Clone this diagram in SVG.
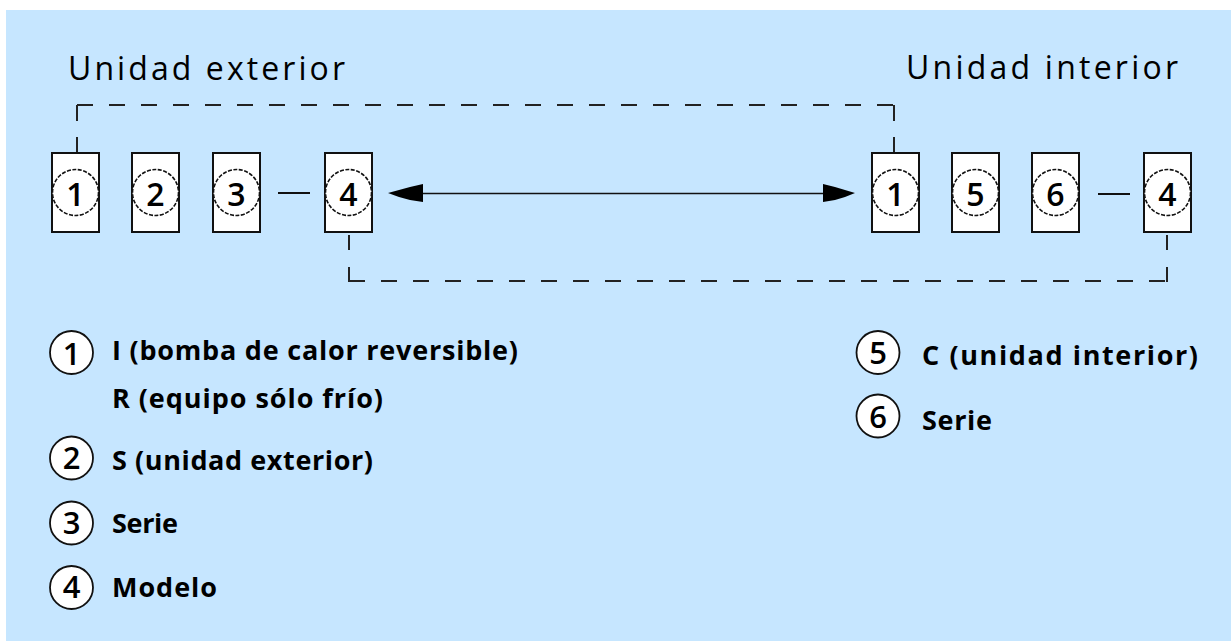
<svg xmlns="http://www.w3.org/2000/svg" width="1231" height="641" viewBox="0 0 1231 641">
<defs>
<style>
.bg{fill:#C6E6FF}
.box{fill:#fff;stroke:#111;stroke-width:2}
.cin{fill:#fff;stroke:#111;stroke-width:1.6;stroke-dasharray:4 1.5}
.cleg{fill:#fff;stroke:#111;stroke-width:1.8}
.num{font-family:"Open Sans","Liberation Sans",sans-serif;font-size:32px;font-weight:600;fill:#000;text-anchor:middle}
.lnum{font-family:"Open Sans","Liberation Sans",sans-serif;font-size:31px;font-weight:600;fill:#000;text-anchor:middle}
.title{font-family:"Open Sans","Liberation Sans",sans-serif;font-size:32px;font-weight:500;fill:#000}
.leg{font-family:"Open Sans","Liberation Sans",sans-serif;font-size:27px;font-weight:700;fill:#000}
.dash{fill:none;stroke:#222;stroke-width:2;stroke-dasharray:16 16}
.solid{fill:none;stroke:#111;stroke-width:2}
.head{fill:#000}
</style>
</defs>
<rect class="bg" x="6" y="10" width="1225" height="631"/>

<text class="title" x="68" y="80" textLength="277" lengthAdjust="spacing">Unidad exterior</text>
<text class="title" x="906" y="79" textLength="272" lengthAdjust="spacing">Unidad interior</text>

<g id="connectors">
  <line class="dash" x1="77" y1="105" x2="77" y2="153"/>
  <line class="dash" x1="77" y1="105" x2="894" y2="105"/>
  <line class="dash" x1="894" y1="105" x2="894" y2="153"/>
  <line class="dash" x1="349" y1="235" x2="349" y2="282" style="stroke-dasharray:15 17"/>
  <line class="dash" x1="349" y1="281" x2="1167" y2="281"/>
  <line class="dash" x1="1167" y1="235" x2="1167" y2="282" style="stroke-dasharray:15 17"/>
  <line class="solid" x1="278" y1="193" x2="310" y2="193"/>
  <line class="solid" x1="1098" y1="194" x2="1130" y2="194"/>
  <line class="solid" x1="420" y1="193.5" x2="826" y2="193.5" style="stroke-width:1.6"/>
  <polygon class="head" points="388,193 399,190 410,187 423,184 423,202 410,200 399,197"/>
  <polygon class="head" points="855,193 845,190 835,187 823,184 823,202 835,200 845,197"/>
</g>

<g id="out1"><rect class="box" x="52" y="153" width="47" height="79"/><circle class="cin" cx="75.5" cy="192.5" r="23"/><text class="num" x="75.5" y="205.5">1</text></g>
<g id="out2"><rect class="box" x="132" y="153" width="47" height="79"/><circle class="cin" cx="155.5" cy="192.5" r="23"/><text class="num" x="155.5" y="205.5">2</text></g>
<g id="out3"><rect class="box" x="213" y="153" width="47" height="79"/><circle class="cin" cx="236.5" cy="192.5" r="23"/><text class="num" x="236.5" y="205.5">3</text></g>
<g id="out4"><rect class="box" x="325" y="153" width="47" height="79"/><circle class="cin" cx="348.5" cy="192.5" r="23"/><text class="num" x="348.5" y="205.5">4</text></g>

<g id="in1"><rect class="box" x="872" y="153" width="47" height="79"/><circle class="cin" cx="895.5" cy="192.5" r="23"/><text class="num" x="895.5" y="205.5">1</text></g>
<g id="in5"><rect class="box" x="952" y="153" width="47" height="79"/><circle class="cin" cx="975.5" cy="192.5" r="23"/><text class="num" x="975.5" y="205.5">5</text></g>
<g id="in6"><rect class="box" x="1032" y="153" width="47" height="79"/><circle class="cin" cx="1055.5" cy="192.5" r="23"/><text class="num" x="1055.5" y="205.5">6</text></g>
<g id="in4"><rect class="box" x="1144" y="153" width="47" height="79"/><circle class="cin" cx="1167.5" cy="192.5" r="23"/><text class="num" x="1167.5" y="205.5">4</text></g>

<g id="legend1"><circle class="cleg" cx="71.5" cy="352.5" r="21.5"/><text class="lnum" x="71.5" y="365">1</text>
<text class="leg" x="112" y="360" textLength="406" lengthAdjust="spacing">I (bomba de calor reversible)</text>
<text class="leg" x="112" y="408" textLength="271" lengthAdjust="spacing">R (equipo sólo frío)</text></g>
<g id="legend2"><circle class="cleg" cx="71.5" cy="458" r="21.5"/><text class="lnum" x="71.5" y="469">2</text>
<text class="leg" x="112" y="470" textLength="261" lengthAdjust="spacing">S (unidad exterior)</text></g>
<g id="legend3"><circle class="cleg" cx="71.5" cy="523" r="21.5"/><text class="lnum" x="71.5" y="534">3</text>
<text class="leg" x="112" y="533" textLength="66" lengthAdjust="spacing">Serie</text></g>
<g id="legend4"><circle class="cleg" cx="71.5" cy="587.5" r="21.5"/><text class="lnum" x="71.5" y="598">4</text>
<text class="leg" x="112" y="597" textLength="105" lengthAdjust="spacing">Modelo</text></g>
<g id="legend5"><circle class="cleg" cx="878" cy="352.5" r="21.5"/><text class="lnum" x="878" y="364">5</text>
<text class="leg" x="922" y="365" textLength="276" lengthAdjust="spacing">C (unidad interior)</text></g>
<g id="legend6"><circle class="cleg" cx="878" cy="416" r="21.5"/><text class="lnum" x="878" y="428">6</text>
<text class="leg" x="922" y="430" textLength="70" lengthAdjust="spacing">Serie</text></g>
</svg>
